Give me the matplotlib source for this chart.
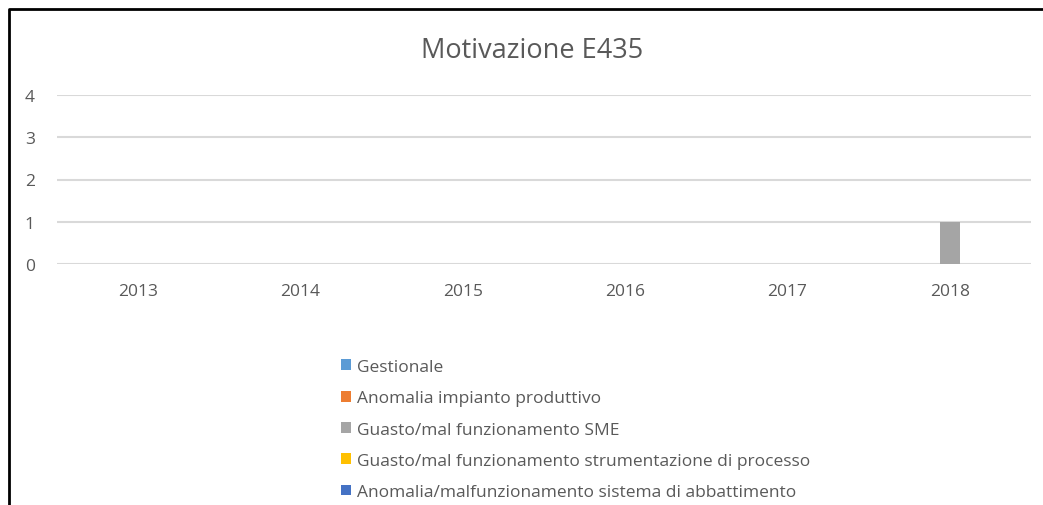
import numpy as np
import matplotlib
matplotlib.use('Agg')
import matplotlib.pyplot as plt
from matplotlib.lines import Line2D

years = ['2013', '2014', '2015', '2016', '2017', '2018']
gestionale = [0, 0, 0, 0, 0, 0]
anomalia_impianto = [0, 0, 0, 0, 0, 0]
guasto_sme = [0, 0, 0, 0, 0, 1]
guasto_strumentazione = [0, 0, 0, 0, 0, 0]
anomalia_abbattimento = [0, 0, 0, 0, 0, 0]

series_names = ['Gestionale',
                'Anomalia impianto produttivo',
                'Guasto/mal funzionamento SME',
                'Guasto/mal funzionamento strumentazione di processo',
                'Anomalia/malfunzionamento sistema di abbattimento']
series_values = [gestionale, anomalia_impianto, guasto_sme,
                 guasto_strumentazione, anomalia_abbattimento]
colors = ['#5B9BD5', '#ED7D31', '#A5A5A5', '#FFC000', '#4472C4']

plt.rcParams['font.family'] = ['Open Sans', 'DejaVu Sans']
textColor = '#595959'

W, H = 1043, 506
fig = plt.figure(figsize=(W / 100, H / 100), dpi=100)
ax = fig.add_axes([57 / W, 1 - 265 / H, (1031 - 57) / W, (265 - 96) / H])

x = np.arange(len(years))
barWidth = 0.123
handles = []
for i, (name, vals) in enumerate(zip(series_names, series_values)):
    b = ax.bar(x + (i - 2) * barWidth, vals, barWidth, color=colors[i],
               label=name, zorder=3)
    handles.append(b)

ax.set_xlim(-0.5, len(years) - 0.5)
ax.set_ylim(0, 4)
ax.set_yticks([0, 1, 2, 3, 4])
ax.set_xticks(x)
ax.set_xticklabels(years)
ax.grid(axis='y', color='#D9D9D9', linewidth=1.5, zorder=0)
for s in ax.spines.values():
    s.set_visible(False)
ax.tick_params(length=0, colors=textColor, labelsize=12.5)
ax.tick_params(axis='x', pad=14)
ax.tick_params(axis='y', pad=16)

fig.text(532 / W, 1 - 51 / H, 'Motivazione E435', ha='center', va='center',
         fontsize=19.5, color=textColor)

fig.legend(handles=handles, loc='upper left',
           bbox_to_anchor=(341 / W, 1 - 360 / H), frameon=False,
           fontsize=12.5, labelcolor=textColor, handlelength=0.58,
           handleheight=0.58, handletextpad=0.34, labelspacing=0.88,
           borderpad=0, borderaxespad=0)

# chart border (only left and top edges visible in the crop)
fig.add_artist(Line2D([9 / W, 9 / W, 1], [0, 1 - 10 / H, 1 - 10 / H],
                      color='black', linewidth=2, transform=fig.transFigure))

fig.savefig('out.png', dpi=100)
